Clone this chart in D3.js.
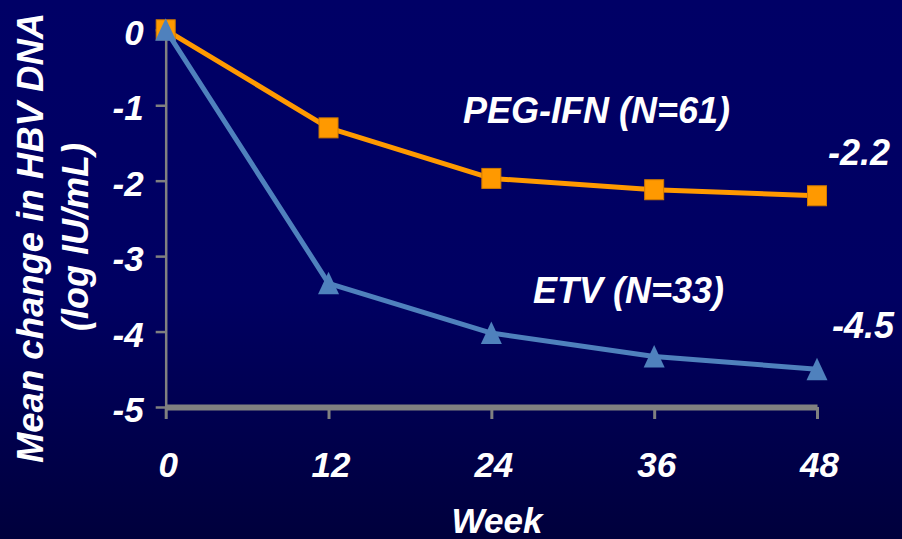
<!DOCTYPE html>
<html>
<head>
<meta charset="utf-8">
<script src="https://cdn.jsdelivr.net/npm/d3@7/dist/d3.min.js"></script>
<style>
  html, body { margin: 0; padding: 0; background: #000066; }
  svg { display: block; }
  text { font-family: "Liberation Sans", Arial, sans-serif; font-weight: bold; font-style: italic; fill: #ffffff; }
</style>
</head>
<body>
<script>
// Mean change in HBV DNA (log IU/mL) by treatment week
const weeks = [0, 12, 24, 36, 48];
const pegIfn = [0, -1.3, -1.97, -2.12, -2.2];
const etv = [0, -3.36, -4.02, -4.33, -4.5];
const yTicks = [0, -1, -2, -3, -4, -5];
const pegLabel = "PEG-IFN (N=61)";
const etvLabel = "ETV (N=33)";
const yTitle = ["Mean change in HBV DNA", "(log IU/mL)"];
const xTitle = "Week";

const W = 902, H = 539;
const svg = d3.select("body").append("svg").attr("width", W).attr("height", H);

// background: navy fading slightly darker toward the bottom
const grad = svg.append("defs").append("linearGradient")
  .attr("id", "bg").attr("x1", 0).attr("y1", 0).attr("x2", 0).attr("y2", 1);
grad.append("stop").attr("offset", "0%").attr("stop-color", "#000066");
grad.append("stop").attr("offset", "55%").attr("stop-color", "#000062");
grad.append("stop").attr("offset", "100%").attr("stop-color", "#00003c");
svg.append("rect").attr("width", W).attr("height", H).attr("fill", "url(#bg)");

const x = d3.scaleLinear().domain([0, 48]).range([165.7, 817]);
const y = d3.scaleLinear().domain([0, -5]).range([29.8, 407]);

const AXIS = "#808080";

// y axis
const gy = svg.append("g").attr("transform", `translate(${x(0)},0)`)
  .call(d3.axisLeft(y).tickValues(yTicks).tickSize(10).tickSizeOuter(0).tickFormat(d => String(d)));
gy.select(".domain").attr("stroke", AXIS).attr("stroke-width", 2.5);
gy.selectAll(".tick line").attr("stroke", AXIS).attr("stroke-width", 2.5);
gy.selectAll(".tick text").attr("x", -22).attr("dy", "0.42em")
  .style("font-size", "35px").attr("fill", "#fff");

// x axis
const gx = svg.append("g").attr("transform", `translate(0,${y(-5)})`)
  .call(d3.axisBottom(x).tickValues(weeks).tickSize(12).tickSizeOuter(0).tickFormat(d => String(d)));
gx.select(".domain").attr("stroke", AXIS).attr("stroke-width", 6);
gx.selectAll(".tick line").attr("stroke", AXIS).attr("stroke-width", 3);
gx.selectAll(".tick text").attr("y", 45).attr("dy", "0.71em").attr("dx", 2)
  .style("font-size", "35px").attr("fill", "#fff");
gx.selectAll(".domain, .tick").raise();

const line = d3.line().x(d => x(d[0])).y(d => y(d[1]));

// PEG-IFN series: orange line with square markers
const pegPts = weeks.map((w, i) => [w, pegIfn[i]]);
svg.append("path").datum(pegPts).attr("d", line)
  .attr("fill", "none").attr("stroke", "#FF9900").attr("stroke-width", 5).attr("stroke-linejoin", "round");
svg.selectAll("rect.peg").data(pegPts).join("rect").attr("class", "peg")
  .attr("x", d => x(d[0]) - 9.5).attr("y", d => y(d[1]) - 10)
  .attr("width", 19).attr("height", 20)
  .attr("fill", "#FF9900").attr("stroke", "#D07A00").attr("stroke-width", 1);

// ETV series: blue line with triangle markers
const etvPts = weeks.map((w, i) => [w, etv[i]]);
svg.append("path").datum(etvPts).attr("d", line)
  .attr("fill", "none").attr("stroke", "#4F81BD").attr("stroke-width", 5).attr("stroke-linejoin", "round");
svg.selectAll("path.etv").data(etvPts).join("path").attr("class", "etv")
  .attr("d", d => {
    const cx = x(d[0]), cy = y(d[1]);
    return `M${cx},${cy - 11.5}L${cx + 10.5},${cy + 11}L${cx - 10.5},${cy + 11}Z`;
  })
  .attr("fill", "#4F81BD");

// series labels
svg.append("text").attr("x", 463).attr("y", 123).style("font-size", "36px").text(pegLabel);
svg.append("text").attr("x", 533).attr("y", 303).style("font-size", "36px").text(etvLabel);
svg.append("text").attr("x", 828).attr("y", 165).style("font-size", "36px")
  .text(pegIfn[pegIfn.length - 1].toFixed(1));
svg.append("text").attr("x", 832).attr("y", 338).style("font-size", "36px")
  .text(etv[etv.length - 1].toFixed(1));

// axis titles
svg.append("text").attr("transform", "translate(43,238) rotate(-90)")
  .attr("text-anchor", "middle").style("font-size", "36.5px").text(yTitle[0]);
svg.append("text").attr("transform", "translate(88,237) rotate(-90)")
  .attr("text-anchor", "middle").style("font-size", "36px").text(yTitle[1]);
svg.append("text").attr("x", 497).attr("y", 533).attr("text-anchor", "middle")
  .style("font-size", "35px").text(xTitle);
</script>
</body>
</html>
